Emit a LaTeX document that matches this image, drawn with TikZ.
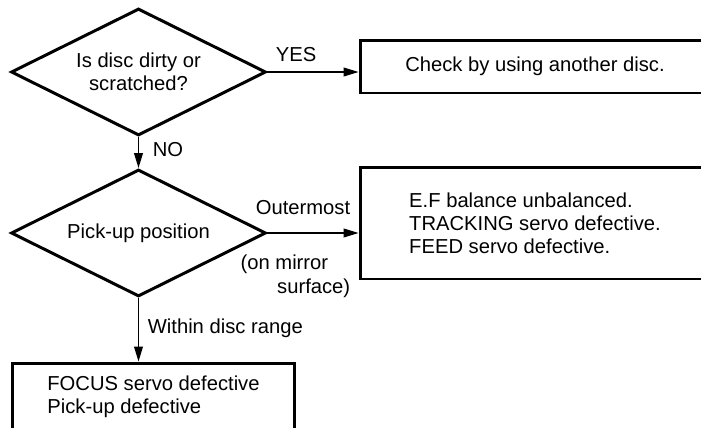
\documentclass[tikz,border=0pt]{standalone}
\usepackage{fontspec}
\setmainfont{Liberation Sans}
\usetikzlibrary{arrows.meta, positioning, shapes.geometric}

\tikzset{
  decision/.style={diamond, aspect=2, draw, line width=1.7pt, inner sep=0pt,
    minimum width=5.1cm, minimum height=2.54cm, align=center},
  result/.style={rectangle, draw, line width=1.7pt, inner sep=0pt, align=left},
  flow/.style={-{Triangle[length=8.5pt, width=5pt]}, line width=0.75pt},
  lbl/.style={inner sep=0pt},
}

\begin{document}
\begin{tikzpicture}[x=0.02cm, y=-0.02cm, font=\fontsize{11.5}{13.1}\selectfont]
  \useasboundingbox (0,0) rectangle (701,427);
  \clip (0,0) rectangle (701,427);
  % decisions
  \node[decision] (dirty) at (138.5,72) {Is disc dirty or\\scratched?};
  \node[decision] (pickup) at (138.5,233) {Pick-up position};
  % results (boxes run off the page edge)
  \node[result, minimum width=7cm, minimum height=1.06cm] (another) at (535,66.5)
       {Check by using another disc.};
  \node[result, minimum width=7cm, minimum height=2.24cm] (causes) at (535,223)
       {E.F balance unbalanced.\\TRACKING servo defective.\\FEED servo defective.};
  \node[result, minimum width=5.66cm, minimum height=1.36cm] (focus) at (153.5,397)
       {FOCUS servo defective\\Pick-up defective};
  % connectors
  \draw[flow] (dirty.east) -- (dirty.east -| another.west);
  \draw[flow] (dirty.south) -- (pickup.north);
  \coordinate (outer) at (pickup.east -| causes.west);
  \draw[flow] (pickup.east) -- (outer);
  \draw[flow] (pickup.south) -- (pickup.south |- focus.north);
  % branch labels
  \node[lbl, above right=0.2cm and 0.16cm of dirty.east] (yes) {YES};
  \node[lbl, below right=0.1cm and 0.28cm of dirty.south] (no) {NO};
  \node[lbl, above left=0.36cm and 0.16cm of outer] (outermost) {Outermost};
  \node[lbl, below left=0.44cm and 0.16cm of outer, align=right] (mirror)
       {(on mirror\hspace*{0.44cm}\\surface)};
  \node[lbl, below right=0.42cm and 0.18cm of pickup.south] (within) {Within disc range};
\end{tikzpicture}
\end{document}
